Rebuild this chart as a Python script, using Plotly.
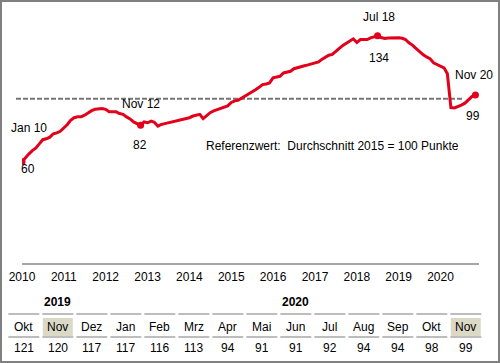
import pandas as pd
import plotly.graph_objects as go

# ---------------- data ----------------
index_values = [
    60, 62.5, 64.5, 66.5, 68, 70.5, 73, 73.5, 74.5, 76.5, 77, 78,            # 2010
    80, 82, 84.5, 86, 86.5, 86.5, 87.5, 89, 90.2, 91, 91.2, 91.5,           # 2011
    91, 89.5, 89.5, 89.5, 88.5, 88, 86.5, 85.3, 83.5, 82.3, 81.5, 83.5,     # 2012
    83, 84, 83.3, 81, 82, 82.5, 83, 83.3, 84, 84.7, 85.2, 85.5,             # 2013
    86, 87, 87.5, 88, 85.5, 87.5, 89, 90, 90.8, 91.5, 92, 93,               # 2014
    95, 96, 96.3, 97.5, 98.7, 100, 101.5, 102.5, 104, 105.6, 106, 106.6,    # 2015
    109.6, 110, 110.5, 112.5, 113, 113.5, 115, 115.7, 116.3, 116.8, 117.3, 117.8,  # 2016
    118.5, 119, 120.5, 122, 123, 123.5, 125.5, 127, 128.8, 130, 131.5, 132.7,      # 2017
    130.5, 132.3, 132.3, 132.3, 133.3, 134, 134.5, 133.5, 132.9, 133.2, 133.3, 133.4,  # 2018
    133.3, 133, 132.3, 130.3, 129, 127, 125, 123.4, 122, 121, 118.5, 117.5,        # 2019
    116.5, 115.5, 112, 92, 91.8, 92.5, 93.5, 94.6, 96.5, 98.5, 99.5,               # 2020
]
dates = pd.date_range("2010-01-01", periods=len(index_values), freq="MS")

highlight_idx = [0, 34, 102, 130]
highlight_names = ["Jan 10", "Nov 12", "Jul 18", "Nov 20"]
highlight_values = ["60", "82", "134", "99"]

reference_value = 97.3
reference_text = "Referenzwert:\u00a0 Durchschnitt 2015 = 100 Punkte"

year_ticks = [f"{y}-01-01" for y in range(2010, 2021)]
year_labels = [str(y) for y in range(2010, 2021)]

table_months = ["Okt", "Nov", "Dez", "Jan", "Feb", "Mrz", "Apr", "Mai",
                "Jun", "Jul", "Aug", "Sep", "Okt", "Nov"]
table_values = [121, 120, 117, 117, 116, 113, 94, 91, 91, 92, 94, 94, 98, 99]
table_years = ["2019", "2020"]
table_year_span = [(0, 2), (3, 13)]
table_highlight = [1, 13]

# ---------------- layout helpers ----------------
W, H = 500, 363
L, R, T, B = 22, 21, 2, 100
PW, PH = W - L - R, H - T - B
FONT = "Liberation Sans, Arial, sans-serif"
RED = "#e2001a"


def px_x(x):
    return (x - L) / PW


def px_y(y):
    return (H - B - y) / PH


fig = go.Figure()
fig.add_trace(go.Scatter(
    x=dates, y=index_values, mode="lines",
    line=dict(color=RED, width=3), hoverinfo="skip", showlegend=False,
))
fig.add_trace(go.Scatter(
    x=[dates[i] for i in highlight_idx],
    y=[index_values[i] for i in highlight_idx],
    mode="markers", marker=dict(color=RED, size=7),
    hoverinfo="skip", showlegend=False,
))

shapes = []
annotations = []

# reference dashed line
shapes.append(dict(type="line", xref="paper", yref="y",
                   x0=px_x(16), x1=px_x(462), y0=reference_value, y1=reference_value,
                   line=dict(color="#767676", width=2, dash="5px,2px"), layer="below"))
annotations.append(dict(xref="paper", yref="paper", x=px_x(332.5), y=px_y(146),
                        text=reference_text, showarrow=False,
                        xanchor="center", yanchor="middle",
                        font=dict(family=FONT, size=12, color="#000")))

# point labels
name_shift = [(7, 34), (0, 21), (1, 19), (-1, 20)]
val_shift = [(6, -7), (-1, -20), (1, -22), (-2, -21)]
for k, i in enumerate(highlight_idx):
    annotations.append(dict(x=dates[i], y=index_values[i], xref="x", yref="y",
                            text=highlight_names[k], showarrow=False,
                            xshift=name_shift[k][0], yshift=name_shift[k][1],
                            font=dict(family=FONT, size=12, color="#000")))
    annotations.append(dict(x=dates[i], y=index_values[i], xref="x", yref="y",
                            text=highlight_values[k], showarrow=False,
                            xshift=val_shift[k][0], yshift=val_shift[k][1],
                            font=dict(family=FONT, size=12, color="#000")))

# table below
col0, pitch, half = 23.8, 34.0, 15.5
for i, (m, v) in enumerate(zip(table_months, table_values)):
    c = col0 + pitch * i
    if i in table_highlight:
        shapes.append(dict(type="rect", xref="paper", yref="paper",
                           x0=px_x(c - half + 0.5), x1=px_x(c + half - 0.5),
                           y0=px_y(336), y1=px_y(318),
                           fillcolor="#dcd8c6", line=dict(width=0)))
    for yy in (314, 337):
        shapes.append(dict(type="line", xref="paper", yref="paper",
                           x0=px_x(c - half), x1=px_x(c + half),
                           y0=px_y(yy), y1=px_y(yy),
                           line=dict(color="#bdbdbd", width=2)))
    annotations.append(dict(xref="paper", yref="paper", x=px_x(c), y=px_y(326.5),
                            text=m, showarrow=False, xanchor="center", yanchor="middle",
                            font=dict(family=FONT, size=12, color="#000")))
    annotations.append(dict(xref="paper", yref="paper", x=px_x(c), y=px_y(347.5),
                            text=str(v), showarrow=False, xanchor="center", yanchor="middle",
                            font=dict(family=FONT, size=12, color="#000")))

for yl, (a, b) in zip(table_years, table_year_span):
    c = col0 + pitch * (a + b) / 2
    annotations.append(dict(xref="paper", yref="paper", x=px_x(c), y=px_y(302),
                            text=f"<b>{yl}</b>", showarrow=False,
                            xanchor="center", yanchor="middle",
                            font=dict(family=FONT, size=12, color="#000")))

# outer frame
shapes.append(dict(type="rect", xref="paper", yref="paper",
                   x0=px_x(1), x1=px_x(499), y0=px_y(362), y1=px_y(1),
                   line=dict(color="#808080", width=2)))

fig.update_layout(
    width=W, height=H,
    margin=dict(l=L, r=R, t=T, b=B, pad=0),
    paper_bgcolor="white", plot_bgcolor="white",
    shapes=shapes, annotations=annotations,
    xaxis=dict(range=["2010-01-01", "2020-12-02"], tickvals=year_ticks, ticktext=year_labels,
               showgrid=False, zeroline=False, showline=True, linecolor="#a6a6a6",
               linewidth=2, ticks="", ticklabelstandoff=2,
               tickfont=dict(family=FONT, size=12, color="#000")),
    yaxis=dict(range=[0, 154.5], visible=False, showgrid=False, zeroline=False),
    font=dict(family=FONT),
)

fig.write_html("out.html", config={"displayModeBar": False},
               post_script="document.body.style.margin='0';document.body.style.overflow='hidden';")
